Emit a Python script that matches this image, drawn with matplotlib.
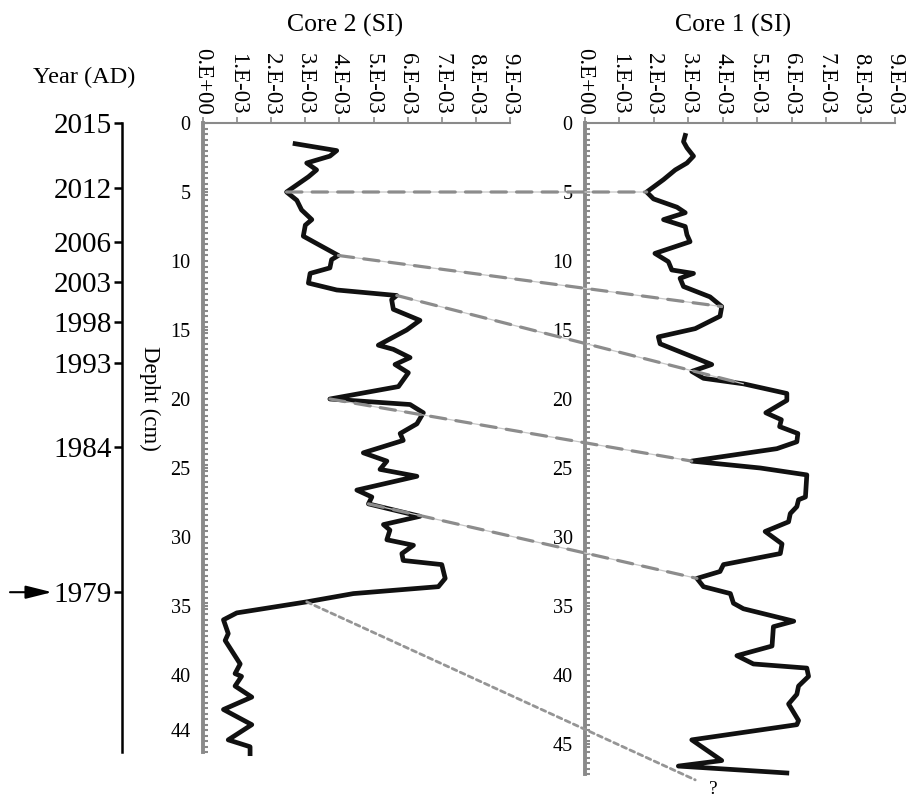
import matplotlib

matplotlib.use("Agg")
import matplotlib.pyplot as plt
import matplotlib.transforms as mtransforms
from matplotlib.patches import ConnectionPatch
from matplotlib.ticker import FixedLocator, FuncFormatter, MultipleLocator
import numpy as np

plt.rcParams["font.family"] = ["Liberation Serif", "DejaVu Serif"]

# magnetic susceptibility, in units of 1e-3 SI, against depth (cm)
CORE2_DEPTH = [1.5, 2.0, 2.4, 2.9, 3.4, 3.9, 5.0, 5.6, 6.3, 7.0, 7.4, 8.2, 8.8, 9.6,
               9.9, 10.5, 10.9, 11.6, 12.1, 12.5, 12.8, 13.5, 14.3, 15.0, 16.1, 16.4,
               17.0, 17.5, 18.1, 19.1, 20.0, 20.4, 21.0, 21.8, 22.5, 23.0, 23.9, 24.5,
               25.1, 25.6, 26.6, 27.1, 27.6, 28.5, 29.1, 29.5, 30.2, 30.6, 31.2, 31.7,
               32.0, 33.0, 33.6, 34.1, 34.7, 35.5, 36.0, 37.0, 37.5, 39.2, 39.9, 40.1,
               40.8, 41.6, 42.5, 43.6, 44.7, 45.2, 45.7]
CORE2_SI = [2.70, 3.92, 3.72, 3.04, 3.33, 3.09, 2.45, 2.75, 2.89, 3.19, 3.00, 2.94,
            3.38, 3.97, 3.77, 3.72, 3.14, 3.09, 3.92, 5.68, 5.53, 5.58, 6.36, 5.97,
            5.14, 5.58, 6.07, 5.63, 6.02, 5.73, 3.72, 6.07, 6.46, 6.27, 5.78, 5.87,
            4.70, 5.39, 5.19, 6.27, 4.51, 4.95, 4.85, 6.36, 5.29, 5.48, 5.39, 6.17,
            5.83, 5.87, 7.00, 7.10, 6.90, 4.41, 3.04, 0.99, 0.60, 0.74, 0.65, 1.09,
            0.94, 1.13, 0.94, 1.43, 0.60, 1.43, 0.74, 1.38, 1.38]

CORE1_DEPTH = [0.9, 1.35, 1.8, 2.4, 2.9, 3.4, 4.1, 5.0, 5.5, 6.1, 6.5, 7.0, 7.5, 8.1,
               8.6, 9.45, 10.05, 10.65, 10.9, 11.25, 11.85, 12.6, 13.3, 14.0, 14.9,
               15.5, 16.0, 17.5, 18.0, 18.5, 18.9, 19.6, 20.1, 21.0, 21.5, 22.0, 22.5,
               23.1, 23.6, 24.5, 25.0, 25.5, 27.1, 27.3, 27.8, 28.3, 28.9, 29.6, 30.5,
               31.2, 32.0, 32.5, 33.0, 33.6, 34.1, 34.8, 35.2, 36.1, 36.5, 37.9, 38.6,
               39.2, 39.5, 40.1, 40.8, 41.4, 42.1, 43.3, 43.6, 44.7, 46.2, 46.6, 47.1]
CORE1_SI = [2.91, 2.86, 2.96, 3.15, 2.96, 2.62, 2.28, 1.79, 1.99, 2.67, 2.91, 2.28,
            2.91, 2.96, 3.05, 2.03, 2.42, 2.52, 3.15, 2.76, 2.86, 3.63, 3.97, 3.92,
            3.20, 2.13, 2.18, 3.68, 3.10, 3.44, 4.60, 5.86, 5.86, 5.25, 5.70, 5.65,
            6.18, 6.15, 5.57, 3.10, 5.09, 6.44, 6.40, 6.20, 6.15, 5.96, 5.91, 5.23,
            5.72, 5.67, 4.02, 3.92, 3.25, 3.44, 4.22, 4.31, 4.60, 6.06, 5.47, 5.43,
            4.41, 4.89, 6.44, 6.49, 6.20, 6.15, 5.91, 6.20, 6.15, 3.10, 3.97, 2.71,
            5.86]

# correlation tie points (core 2 -> core 1)
TIE_CORE2_DEPTH = [5.0, 9.6, 12.5, 20.0, 27.6]
TIE_CORE2_SI = [2.45, 3.97, 5.68, 3.72, 4.85]
TIE_CORE1_DEPTH = [5.0, 13.3, 18.9, 24.5, 33.0]
TIE_CORE1_SI = [1.79, 3.97, 4.60, 3.10, 3.25]
UNCERTAIN_TIE_CORE2 = (3.04, 34.7)
UNCERTAIN_TIE_CORE1 = (3.20, 47.6)

YEAR_LABELS = ["2015", "2012", "2006", "2003", "1998", "1993", "1984", "1979"]
YEAR_DEPTHS = [0, 4.7, 8.6, 11.5, 14.4, 17.4, 23.5, 34.0]

CORE2_DEPTH_TICKS = [0, 5, 10, 15, 20, 25, 30, 35, 40, 44]
CORE1_DEPTH_TICKS = [0, 5, 10, 15, 20, 25, 30, 35, 40, 45]
SI_TICKS = np.arange(10) * 1e-3

W, H = 907, 798
PX_PER_CM = 13.8
TOP_PX = 123
GRAY = "#8a8a8a"


def box(left, right, depth_max):
    bottom = TOP_PX + depth_max * PX_PER_CM
    return [left / W, 1 - bottom / H, (right - left) / W, (bottom - TOP_PX) / H]


def si_label(v, _pos):
    if abs(v) < 1e-9:
        return "0.E+00"
    return f"{round(v * 1e3)}.E-03"


def style_core(ax, depth_max, depth_ticks):
    ax.set_xlim(0, 9e-3)
    ax.set_ylim(depth_max, 0)
    ax.patch.set_visible(False)
    ax.xaxis.tick_top()
    ax.set_xticks(SI_TICKS)
    ax.xaxis.set_major_formatter(FuncFormatter(si_label))
    ax.yaxis.set_major_locator(FixedLocator(depth_ticks))
    ax.yaxis.set_minor_locator(MultipleLocator(0.4))
    for side in ("right", "bottom"):
        ax.spines[side].set_visible(False)
    ax.spines["top"].set_color(GRAY)
    ax.spines["top"].set_linewidth(1.5)
    ax.spines["left"].set_color(GRAY)
    ax.spines["left"].set_linewidth(2.8)
    ax.tick_params(axis="x", which="major", direction="out", length=4, width=1.2,
                   color=GRAY, labelsize=16.5, labelrotation=-90, pad=2)
    ax.tick_params(axis="y", which="both", direction="in", length=3.5, width=1.5,
                   color=GRAY, labelsize=14.5, pad=9)


fig = plt.figure(figsize=(W / 100, H / 100), dpi=100)

ax2 = fig.add_axes(box(203, 510, 45.6))
ax1 = fig.add_axes(box(585, 895, 47.2))
style_core(ax2, 45.6, CORE2_DEPTH_TICKS)
style_core(ax1, 47.2, CORE1_DEPTH_TICKS)

ax2.plot(np.array(CORE2_SI) * 1e-3, CORE2_DEPTH, color="#111111", lw=3.4, clip_on=False)
ax1.plot(np.array(CORE1_SI) * 1e-3, CORE1_DEPTH, color="#111111", lw=3.4, clip_on=False)

# tie lines between the cores
for s2, d2, s1, d1 in zip(TIE_CORE2_SI, TIE_CORE2_DEPTH, TIE_CORE1_SI, TIE_CORE1_DEPTH):
    for color, lw, ls in (("#c8c8c8", 0.9, "-"), ("#8c8c8c", 2.3, (0, (4.8, 3.2)))):
        con = ConnectionPatch(xyA=(s2 * 1e-3, d2), coordsA=ax2.transData,
                              xyB=(s1 * 1e-3, d1), coordsB=ax1.transData,
                              color=color, lw=lw, linestyle=ls, zorder=5)
        fig.add_artist(con)

con = ConnectionPatch(xyA=(UNCERTAIN_TIE_CORE2[0] * 1e-3, UNCERTAIN_TIE_CORE2[1]),
                      coordsA=ax2.transData,
                      xyB=(UNCERTAIN_TIE_CORE1[0] * 1e-3, UNCERTAIN_TIE_CORE1[1]),
                      coordsB=ax1.transData,
                      color="#959595", lw=2.0, linestyle=(0, (1.8, 1.4)), zorder=5)
fig.add_artist(con)
ax1.text(3.72e-3, 48.3, "?", ha="center", va="center", fontsize=14, clip_on=False)

# year axis
axy = fig.add_axes(box(122, 123, 45.6))
axy.set_ylim(45.6, 0)
axy.patch.set_visible(False)
for side in ("right", "top", "bottom"):
    axy.spines[side].set_visible(False)
axy.spines["left"].set_linewidth(1.8)
axy.set_xticks([])
axy.set_yticks(YEAR_DEPTHS)
axy.set_yticklabels(YEAR_LABELS)
axy.tick_params(axis="y", direction="out", length=6, width=1.8, labelsize=21, pad=1.5)

arrow_tr = mtransforms.blended_transform_factory(fig.transFigure, axy.transData)
axy.annotate("", xy=(52 / W, YEAR_DEPTHS[-1]), xycoords=arrow_tr,
             xytext=(10 / W, YEAR_DEPTHS[-1]), textcoords=arrow_tr,
             arrowprops=dict(arrowstyle="-|>,head_length=1.0,head_width=0.25",
                             mutation_scale=16, color="black", lw=1.5,
                             shrinkA=0, shrinkB=0))

fig.text(84 / W, 1 - 77 / H, "Year (AD)", ha="center", va="center", fontsize=17.5)
fig.text(345 / W, 1 - 25 / H, "Core 2 (SI)", ha="center", va="center", fontsize=18.5)
fig.text(733 / W, 1 - 25 / H, "Core 1 (SI)", ha="center", va="center", fontsize=18.5)
fig.text(150 / W, 1 - 398 / H, "Depht (cm)", ha="center", va="center",
         rotation=-90, fontsize=16.5)

fig.savefig("out.png", dpi=100)
